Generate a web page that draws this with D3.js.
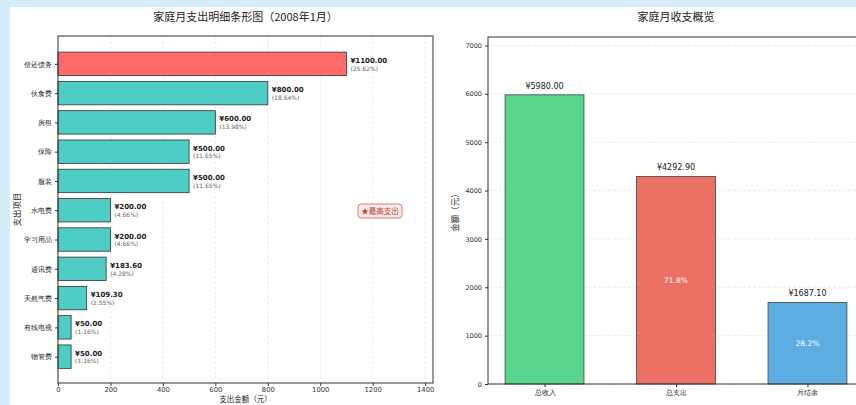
<!DOCTYPE html>
<html>
<head>
<meta charset="utf-8">
<script src="https://cdn.jsdelivr.net/npm/d3@7"></script>
<style>
  body { margin: 0; background: #d5edf8; }
  svg { display: block; font-family: "Noto Sans CJK SC", "DejaVu Sans", sans-serif; }
  .num { font-family: "DejaVu Sans", sans-serif; }
</style>
</head>
<body>
<div id="chart"></div>
<script>
// expense detail (left chart)
const items = ["偿还债务", "伙食费", "房租", "保险", "服装", "水电费", "学习用品", "通讯费", "天然气费", "有线电视", "物管费"];
const amounts = [1100, 800, 600, 500, 500, 200, 200, 183.6, 109.3, 50, 50];
const xTicks = [0, 200, 400, 600, 800, 1000, 1200, 1400];

// overview (right chart)
const groups = ["总收入", "总支出", "月结余"];
const totals = [5980, 4292.9, 1687.1];
const yTicks = [0, 1000, 2000, 3000, 4000, 5000, 6000, 7000];

const totalSpend = d3.sum(amounts);
const maxAmount = d3.max(amounts);

const svg = d3.select("#chart")
    .append("svg")
    .attr("width", 856)
    .attr("height", 405);

// white figure area
svg.append("rect")
    .attr("x", 10).attr("y", 7)
    .attr("width", 846).attr("height", 398)
    .attr("fill", "#ffffff");

// ---------- left: horizontal bars ----------
const left = {x0: 58, x1: 433, y0: 36, y1: 383};

const x1 = d3.scaleLinear()
    .domain([0, maxAmount * 1.3])
    .range([left.x0, left.x1]);

const y1 = d3.scaleLinear()
    .domain([-0.95, items.length - 0.1])
    .range([left.y0, left.y1]);

const step1 = y1(1) - y1(0);
const barH = step1 * 0.8;

svg.append("text")
    .attr("x", (left.x0 + left.x1) / 2)
    .attr("y", 21)
    .attr("text-anchor", "middle")
    .attr("font-size", "11px")
    .attr("fill", "#222")
    .text("家庭月支出明细条形图（2008年1月）");

// grid
svg.append("g")
    .selectAll("line")
    .data(xTicks)
    .join("line")
    .attr("x1", d => x1(d)).attr("x2", d => x1(d))
    .attr("y1", left.y0).attr("y2", left.y1)
    .attr("stroke", "#dddddd")
    .attr("stroke-width", 0.6)
    .attr("stroke-dasharray", "3,2");

// bars
svg.append("g")
    .selectAll("rect")
    .data(amounts)
    .join("rect")
    .attr("x", x1(0))
    .attr("y", (d, i) => y1(i) - barH / 2)
    .attr("width", d => x1(d) - x1(0))
    .attr("height", barH)
    .attr("fill", d => d === maxAmount ? "#ff6b6b" : "#4ecdc4")
    .attr("stroke", "#333")
    .attr("stroke-width", 0.8);

// value labels
const lab = svg.append("g").attr("class", "num");
lab.selectAll("text.val")
    .data(amounts)
    .join("text")
    .attr("class", "val")
    .attr("x", d => x1(d) + 4)
    .attr("y", (d, i) => y1(i) - 1)
    .attr("font-size", "7px")
    .attr("font-weight", "bold")
    .attr("fill", "#222")
    .text(d => "¥" + d.toFixed(2));
lab.selectAll("text.pct")
    .data(amounts)
    .join("text")
    .attr("class", "pct")
    .attr("x", d => x1(d) + 4)
    .attr("y", (d, i) => y1(i) + 6.8)
    .attr("font-size", "6px")
    .attr("fill", "#666")
    .text(d => "(" + (d / totalSpend * 100).toFixed(2) + "%)");

// axes
const gx1 = svg.append("g")
    .attr("class", "num")
    .attr("transform", `translate(0,${left.y1})`)
    .call(d3.axisBottom(x1).tickValues(xTicks).tickSize(3).tickPadding(1).tickFormat(d3.format("d")));
gx1.select(".domain").remove();
gx1.selectAll("text").attr("font-size", "6.8px").attr("fill", "#333");
gx1.selectAll("line").attr("stroke", "#333");

const gy1 = svg.append("g")
    .attr("transform", `translate(${left.x0},0)`)
    .call(d3.axisLeft(y1).tickValues(d3.range(items.length)).tickSize(3).tickFormat(i => items[i]));
gy1.select(".domain").remove();
gy1.selectAll("text").attr("font-size", "7px").attr("fill", "#222");
gy1.selectAll("line").attr("stroke", "#333");

// frame
svg.append("rect")
    .attr("x", left.x0).attr("y", left.y0)
    .attr("width", left.x1 - left.x0).attr("height", left.y1 - left.y0)
    .attr("fill", "none")
    .attr("stroke", "#333")
    .attr("stroke-width", 1);

svg.append("text")
    .attr("transform", `translate(20,${(left.y0 + left.y1) / 2}) rotate(-90)`)
    .attr("text-anchor", "middle")
    .attr("font-size", "8.5px")
    .attr("fill", "#222")
    .text("支出项目");

svg.append("text")
    .attr("x", (left.x0 + left.x1) / 2)
    .attr("y", 402.3)
    .attr("text-anchor", "middle")
    .attr("font-size", "7.5px")
    .attr("fill", "#222")
    .text("支出金额（元）");

// highest expense note
const note = svg.append("g").attr("transform", "translate(380,211)");
note.append("rect")
    .attr("x", -22).attr("y", -7)
    .attr("width", 44).attr("height", 14)
    .attr("rx", 3)
    .attr("fill", "#fdecec")
    .attr("stroke", "#d9534f")
    .attr("stroke-width", 0.8);
note.append("text")
    .attr("text-anchor", "middle")
    .attr("dy", "0.35em")
    .attr("font-size", "7.5px")
    .attr("fill", "#c0392b")
    .text("★最高支出");

// ---------- right: overview bars ----------
const right = {x0: 488, x1: 864, y0: 37, y1: 384};

const x2 = d3.scaleLinear()
    .domain([-0.43, groups.length - 1 + 0.43])
    .range([right.x0, right.x1]);
const bw = (x2(1) - x2(0)) * 0.6;

const y2 = d3.scaleLinear()
    .domain([0, d3.max(totals) * 1.2])
    .range([right.y1, right.y0]);

svg.append("text")
    .attr("x", x2(1))
    .attr("y", 21)
    .attr("text-anchor", "middle")
    .attr("font-size", "11px")
    .attr("fill", "#222")
    .text("家庭月收支概览");

svg.append("g")
    .selectAll("line")
    .data(yTicks)
    .join("line")
    .attr("x1", right.x0).attr("x2", right.x1)
    .attr("y1", d => y2(d)).attr("y2", d => y2(d))
    .attr("stroke", "#dddddd")
    .attr("stroke-width", 0.6)
    .attr("stroke-dasharray", "3,2");

const colors = ["#58d68d", "#ec7063", "#5dade2"];
svg.append("g")
    .selectAll("rect")
    .data(totals)
    .join("rect")
    .attr("x", (d, i) => x2(i) - bw / 2)
    .attr("y", d => y2(d))
    .attr("width", bw)
    .attr("height", d => y2(0) - y2(d))
    .attr("fill", (d, i) => colors[i])
    .attr("stroke", "#444")
    .attr("stroke-width", 0.8);

svg.append("g")
    .attr("class", "num")
    .selectAll("text")
    .data(totals)
    .join("text")
    .attr("x", (d, i) => x2(i))
    .attr("y", d => y2(d) - 6)
    .attr("text-anchor", "middle")
    .attr("font-size", "8px")
    .attr("fill", "#222")
    .text(d => "¥" + d.toFixed(2));

// share of income inside expense and balance bars
svg.append("g")
    .attr("class", "num")
    .selectAll("text")
    .data(totals.slice(1))
    .join("text")
    .attr("x", (d, i) => x2(i + 1))
    .attr("y", d => y2(d / 2))
    .attr("dy", "0.35em")
    .attr("text-anchor", "middle")
    .attr("font-size", "7.5px")
    .attr("fill", "#ffffff")
    .text(d => (d / totals[0] * 100).toFixed(1) + "%");

const gx2 = svg.append("g")
    .attr("transform", `translate(0,${right.y1})`)
    .call(d3.axisBottom(x2).tickValues(d3.range(groups.length)).tickSize(3).tickFormat(i => groups[i]));
gx2.select(".domain").remove();
gx2.selectAll("text").attr("font-size", "7px").attr("fill", "#222");
gx2.selectAll("line").attr("stroke", "#333");

const gy2 = svg.append("g")
    .attr("class", "num")
    .attr("transform", `translate(${right.x0},0)`)
    .call(d3.axisLeft(y2).tickValues(yTicks).tickSize(3).tickFormat(d3.format("d")));
gy2.select(".domain").remove();
gy2.selectAll("text").attr("font-size", "6.5px").attr("fill", "#333");
gy2.selectAll("line").attr("stroke", "#333");

svg.append("rect")
    .attr("x", right.x0).attr("y", right.y0)
    .attr("width", right.x1 - right.x0).attr("height", right.y1 - right.y0)
    .attr("fill", "none")
    .attr("stroke", "#333")
    .attr("stroke-width", 1);

svg.append("text")
    .attr("transform", `translate(458,${(right.y0 + right.y1) / 2}) rotate(-90)`)
    .attr("text-anchor", "middle")
    .attr("font-size", "8.5px")
    .attr("fill", "#222")
    .text("金额（元）");
</script>
</body>
</html>
